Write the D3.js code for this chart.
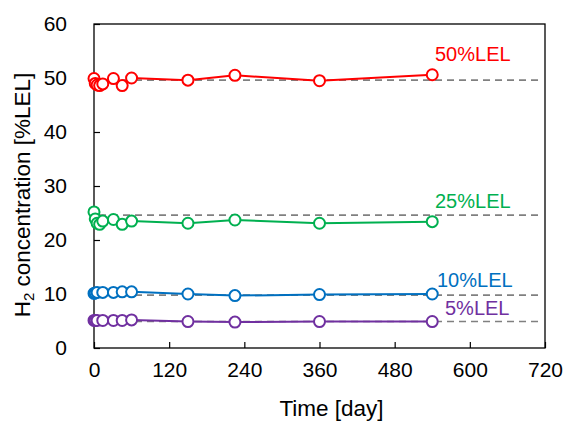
<!DOCTYPE html>
<html><head><meta charset="utf-8">
<script src="https://cdn.jsdelivr.net/npm/d3@7"></script>
<style>body{margin:0;background:#fff}svg{display:block}text{font-family:"Liberation Sans",Arial,sans-serif}</style>
</head><body>
<svg id="c" width="566" height="423"></svg>
<script>
const xTicks = [0, 120, 240, 360, 480, 600, 720];
const yTicks = [0, 10, 20, 30, 40, 50, 60];

const days50 = [0, 2, 5, 9, 14, 31, 45, 60, 150, 225, 360, 540];
const vals50 = [49.9, 49.0, 48.7, 48.6, 48.9, 49.9, 48.6, 50.0, 49.6, 50.5, 49.5, 50.6];

const days25 = [0, 2, 5, 9, 14, 31, 45, 60, 150, 225, 360, 540];
const vals25 = [25.2, 23.9, 23.1, 22.9, 23.5, 23.8, 22.9, 23.5, 23.1, 23.7, 23.1, 23.4];

const days10 = [0, 2, 5, 14, 31, 45, 60, 150, 225, 360, 540];
const vals10 = [10.1, 10.2, 10.3, 10.3, 10.3, 10.4, 10.4, 10.0, 9.7, 9.9, 10.0];

const days5 = [0, 2, 5, 14, 31, 45, 60, 150, 225, 360, 540];
const vals5 = [5.1, 5.1, 5.1, 5.1, 5.1, 5.1, 5.2, 4.9, 4.8, 4.9, 4.9];

const targets = [49.6, 24.6, 9.8, 4.9];
const labels = ["50%LEL", "25%LEL", "10%LEL", "5%LEL"];

const colors = ["#FF0000", "#00B050", "#0070C0", "#7030A0"];
const series = [
  {d: days50, v: vals50}, {d: days25, v: vals25},
  {d: days10, v: vals10}, {d: days5, v: vals5}
];
const labelPos = [[435, 61], [435, 208], [437, 287], [445, 315]];

const svg = d3.select("#c");
const L = 94, R = 545, T = 24, B = 348;
const x = d3.scaleLinear().domain([0, 720]).range([L, R]);
const y = d3.scaleLinear().domain([0, 60]).range([B, T]);

// frame
svg.append("rect").attr("x", L).attr("y", T).attr("width", R - L).attr("height", B - T)
  .attr("fill", "none").attr("stroke", "#000").attr("stroke-width", 1.3);

// axes
const xa = svg.append("g").attr("transform", `translate(0,${B})`)
  .call(d3.axisBottom(x).tickValues(xTicks).tickSizeInner(-6).tickSizeOuter(0).tickPadding(14));
const ya = svg.append("g").attr("transform", `translate(${L},0)`)
  .call(d3.axisLeft(y).tickValues(yTicks).tickSizeInner(-6).tickSizeOuter(0).tickPadding(27));
[xa, ya].forEach(a => {
  a.select(".domain").remove();
  a.selectAll("line").attr("stroke", "#000").attr("stroke-width", 1.2);
  a.selectAll("text").attr("font-size", 21).attr("fill", "#000")
    .style("font-family", '"Liberation Sans",Arial,sans-serif');
});

// dashed target lines
svg.append("g").selectAll("line").data(targets).join("line")
  .attr("x1", x(8)).attr("x2", x(715))
  .attr("y1", d => y(d)).attr("y2", d => y(d))
  .attr("stroke", "#808080").attr("stroke-width", 1.6).attr("stroke-dasharray", "7,5");

// series
const line = d3.line().x(p => x(p[0])).y(p => y(p[1]));
series.forEach((s, i) => {
  const pts = s.d.map((d, j) => [d, s.v[j]]);
  const g = svg.append("g");
  g.append("path").attr("d", line(pts)).attr("fill", "none")
    .attr("stroke", colors[i]).attr("stroke-width", 2);
  g.selectAll("circle").data(pts).join("circle")
    .attr("cx", p => x(p[0])).attr("cy", p => y(p[1])).attr("r", 5.5)
    .attr("fill", "#fff").attr("stroke", colors[i]).attr("stroke-width", 2);
  svg.append("text").attr("x", labelPos[i][0]).attr("y", labelPos[i][1])
    .attr("font-size", 20).attr("fill", colors[i]).text(labels[i]);
});

// axis titles
svg.append("text").attr("x", (L + R) / 2 + 12).attr("y", 416).attr("text-anchor", "middle")
  .attr("font-size", 22.5).text("Time [day]");
const yt = svg.append("text").attr("transform", "translate(30,195) rotate(-90)")
  .attr("text-anchor", "middle").attr("font-size", 22.5);
yt.append("tspan").text("H");
yt.append("tspan").attr("font-size", 15).attr("dy", 4).text("2");
yt.append("tspan").attr("dy", -4).text(" concentration [%LEL]");
</script>
</body></html>
